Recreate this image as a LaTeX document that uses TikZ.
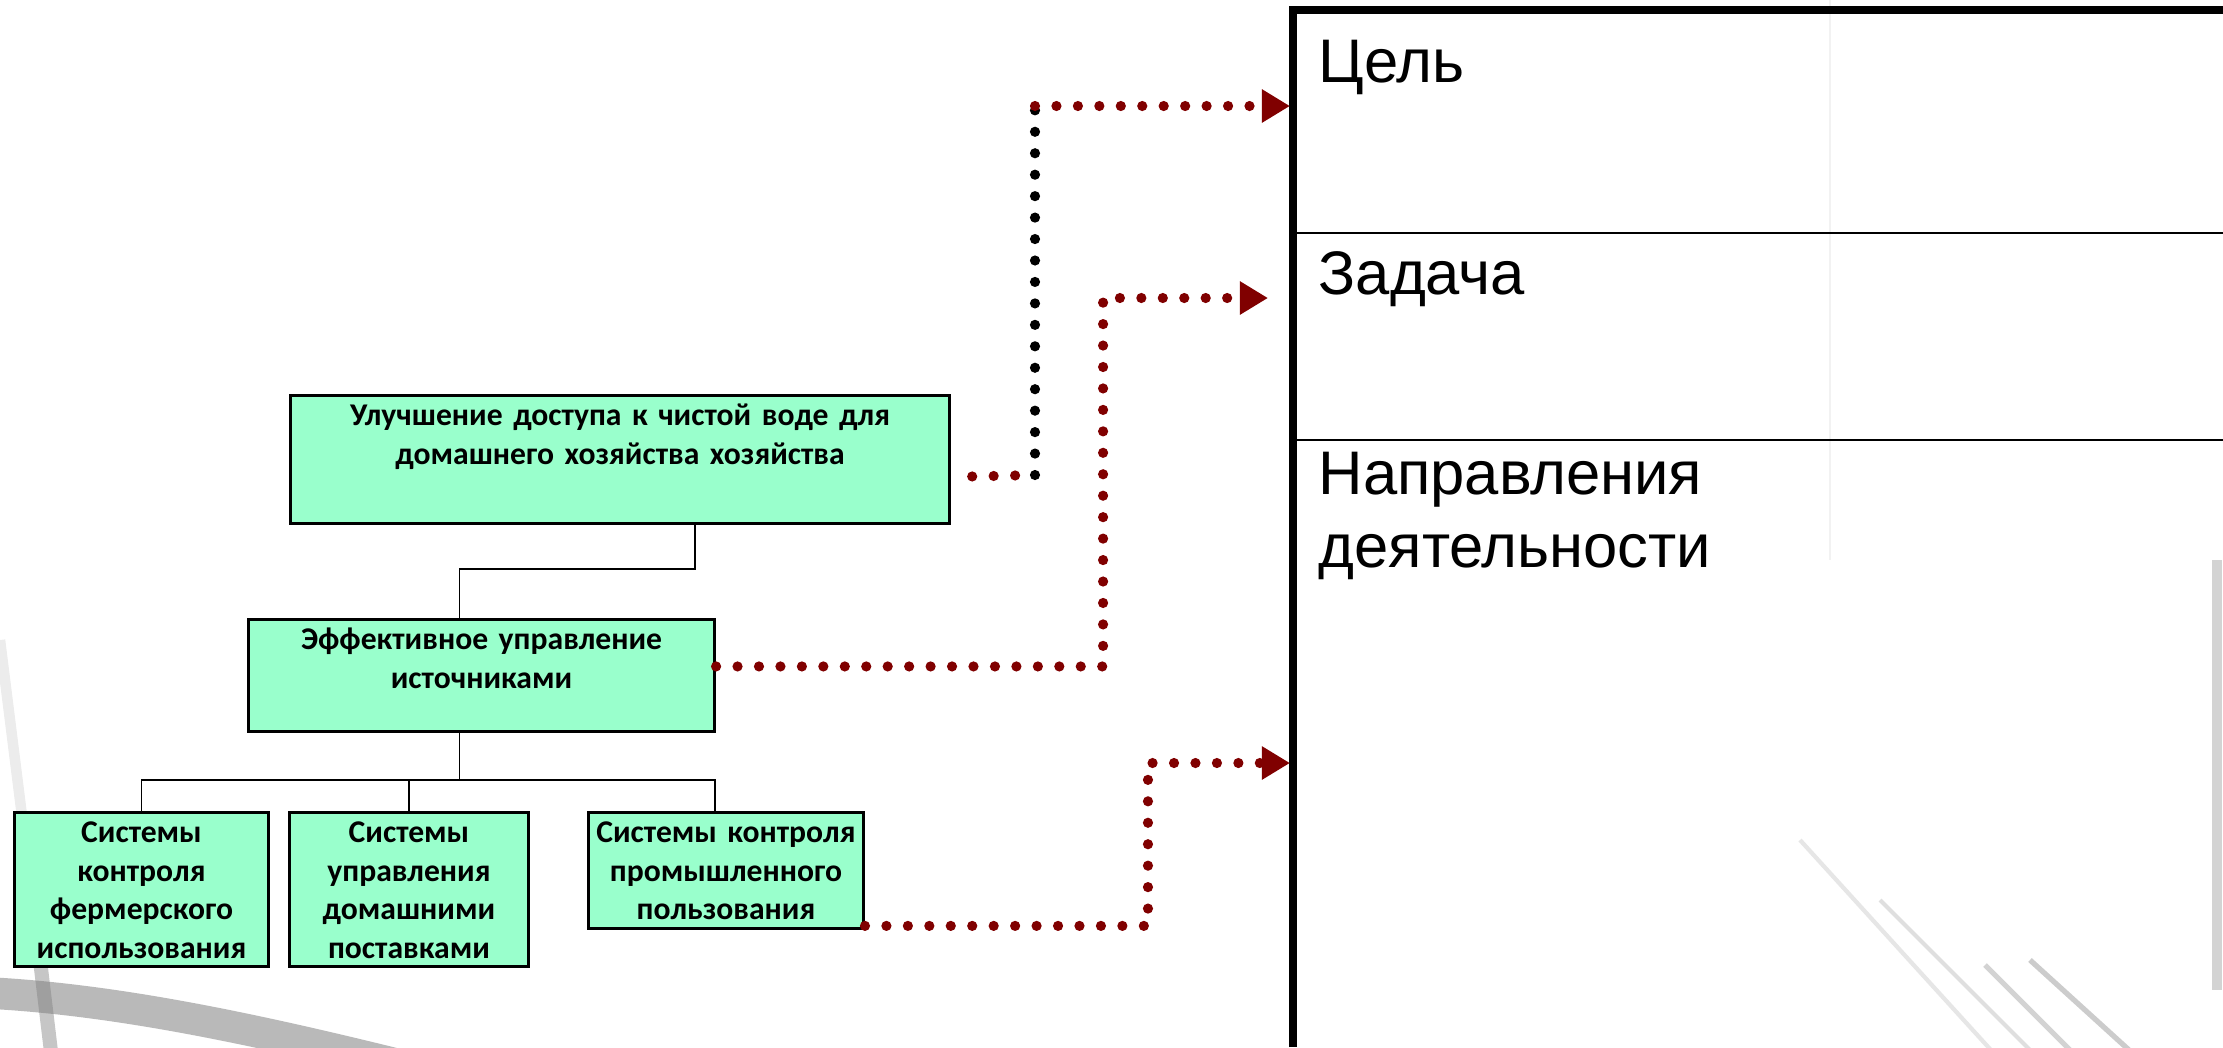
\documentclass[tikz,border=0pt]{standalone}
\usepackage{fontspec}
\setmainfont{Liberation Sans}
\newfontfamily\carlito{Carlito}
\usetikzlibrary{arrows.meta}
\definecolor{mint}{RGB}{153,255,204}
\definecolor{darkred}{RGB}{128,0,0}
\tikzset{
  box/.style={draw, line width=0.8pt, fill=mint, align=center, anchor=north west,
    inner xsep=0pt, inner ysep=0pt, text height=0.30cm,
    font=\carlito\bfseries\fontsize{9}{11}\selectfont},
  tree/.style={line width=0.5pt},
  reddots/.style={draw=darkred, line width=2.9pt, line cap=round, dash pattern=on 0pt off 6.1pt},
  blackdots/.style={reddots, draw=black},
  headed/.style={-{Triangle[length=8pt,width=9pt]}},
  celltext/.style={anchor=base west, align=left, inner sep=0pt, text width=8cm,
    font=\fontsize{17.5}{21}\selectfont},
  sketch/.style={draw=gray, line cap=butt},
}

\begin{document}
\begin{tikzpicture}[x=0.01cm,y=-0.01cm]
\useasboundingbox (0,0) rectangle (2223,1047);
% faint background strokes
\draw[sketch, line width=3pt, opacity=0.15] (0,640) -- (20,800) -- (40,960);
\draw[sketch, line width=4pt, opacity=0.45] (40,960) -- (52,1060);
\draw[sketch, line width=9pt, opacity=0.55] (-10,993) .. controls (120,1000) and (260,1030) .. (420,1070);
\draw[sketch, line width=1.2pt, opacity=0.2] (1800,840) -- (2000,1060);
\draw[sketch, line width=1.2pt, opacity=0.25] (1880,900) -- (2040,1060);
\draw[sketch, line width=1.5pt, opacity=0.35] (1985,965) -- (2080,1060);
\draw[sketch, line width=1.5pt, opacity=0.4] (2030,960) -- (2140,1060);
\draw[sketch, line width=0.8pt, opacity=0.1] (1830,0) -- (1830,560);
\draw[sketch, line width=3pt, opacity=0.35] (2217,560) -- (2217,990);

% hierarchy boxes
\node[box, text width=6.59cm, text depth=0.98cm] (goal) at (289,394)
  {Улучшение доступа к чистой воде для\\домашнего хозяйства хозяйства};
\node[box, text width=4.66cm, text depth=0.82cm] (src) at (247,618)
  {Эффективное управление\\источниками};
\node[box, text width=2.54cm, text depth=1.24cm] (farm) at (13,811)
  {Системы\\контроля\\фермерского\\использования};
\node[box, text width=2.39cm, text depth=1.24cm] (home) at (288,811)
  {Системы\\управления\\домашними\\поставками};
\node[box, text width=2.75cm, text depth=0.86cm] (ind) at (587,811)
  {Системы контроля\\промышленного\\пользования};

\draw[tree] ([xshift=0.75cm]goal.south) -- ++(0,44) -| ([xshift=-0.22cm]src.north);
\draw[tree] ([xshift=-0.22cm]src.south) -- ++(0,47) coordinate (bus);
\draw[tree] (farm.north) |- (bus) -| ([xshift=-0.11cm]ind.north);
\draw[tree] (home.north) -- (home.north |- bus);

% table on the right
\draw[line width=2pt] (1293,1047) -- (1293,10) -- (2223,10);
\draw[line width=0.6pt] (1297,233) -- (2223,233) (1297,440) -- (2223,440);
\node[celltext] (tgoal) at (1318,82) {Цель};
\node[celltext] (ttask) at (1318,294) {Задача};
\node[celltext] (tdir) at (1318,494) {Направления\\деятельности};

\coordinate (goalin) at (1290,106);
\coordinate (taskin) at (1268,298);
\coordinate (dirin) at (1290,763);
\coordinate (bend) at (1035,475);

% dotted arrows
\draw[blackdots] (bend) -- (bend |- goalin);
\draw[reddots] ([xshift=0.21cm,yshift=-0.17cm]goal.east) -- (bend);
\draw[reddots, headed] (bend |- goalin) -- (goalin);
\draw[reddots, headed] ([yshift=0.09cm]src.east) -- ++(387,0) |- (taskin);
\draw[reddots, headed] ([yshift=0.04cm]ind.south east) -- ++(283,0) |- (dirin);
\end{tikzpicture}
\end{document}
